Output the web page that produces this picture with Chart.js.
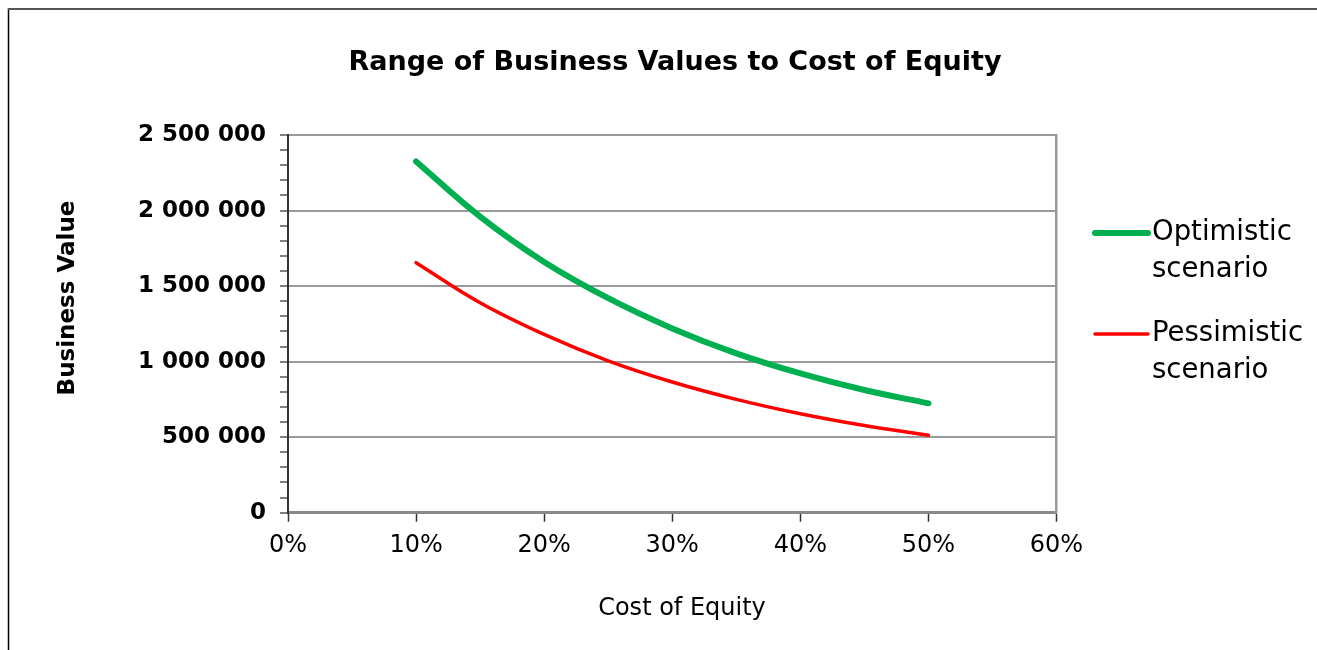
<!DOCTYPE html>
<html>
<head>
<meta charset="utf-8">
<script src="https://cdn.jsdelivr.net/npm/chart.js@4.4.1/dist/chart.umd.min.js"></script>
<style>
  html, body { margin: 0; padding: 0; background: #ffffff; }
  #wrap { position: relative; width: 1317px; height: 650px; }
  canvas { display: block; }
</style>
</head>
<body>
<div id="wrap"><canvas id="c" width="1317" height="650"></canvas></div>
<script>
// ---- data ----
const chartTitle = 'Range of Business Values to Cost of Equity';
const xAxisTitle = 'Cost of Equity';
const yAxisTitle = 'Business Value';
const costOfEquity = [0.10, 0.15, 0.20, 0.25, 0.30, 0.35, 0.40, 0.45, 0.50];
const optimistic   = [2325000, 1960000, 1660000, 1420000, 1220000, 1055000, 922000, 812000, 724000];
const pessimistic  = [1655000, 1390000, 1180000, 1005000, 865000, 750000, 655000, 577000, 513000];
const seriesNames  = ['Optimistic scenario', 'Pessimistic scenario'];
const legendLines  = [['Optimistic', 'scenario'], ['Pessimistic', 'scenario']];
const seriesColors = ['#00B050', '#FF0000'];
const xTickValues  = [0, 0.1, 0.2, 0.3, 0.4, 0.5, 0.6];
const yMajorStep   = 500000;

const FONT = '"DejaVu Sans", "Liberation Sans", Arial, sans-serif';

function fmtSpace(v) {
  return String(Math.round(v)).replace(/\B(?=(\d{3})+(?!\d))/g, ' ');
}

const decor = {
  id: 'decor',
  afterDraw(chart) {
    const ctx = chart.ctx;
    ctx.save();
    // outer frame (left and top edges)
    ctx.strokeStyle = '#000000';
    ctx.lineWidth = 1.5;
    ctx.beginPath();
    ctx.moveTo(8.5, 8);
    ctx.lineTo(8.5, 650);
    ctx.stroke();
    ctx.strokeStyle = '#555555';
    ctx.lineWidth = 2;
    ctx.beginPath();
    ctx.moveTo(8, 9);
    ctx.lineTo(1317, 9);
    ctx.stroke();

    // y axis title
    ctx.fillStyle = '#000000';
    ctx.font = 'bold 23px ' + FONT;
    ctx.textAlign = 'center';
    ctx.textBaseline = 'middle';
    ctx.save();
    ctx.translate(68, 298);
    ctx.rotate(-Math.PI / 2);
    ctx.fillText(yAxisTitle, 0, 0);
    ctx.restore();

    // x axis title
    ctx.font = '24px ' + FONT;
    ctx.fillText(xAxisTitle, 682, 609);

    // legend
    const entryY = [233, 334];
    chart.data.datasets.forEach((ds, i) => {
      const y = entryY[i];
      ctx.strokeStyle = ds.borderColor;
      ctx.lineWidth = ds.borderWidth;
      ctx.lineCap = 'round';
      ctx.beginPath();
      ctx.moveTo(1095, y);
      ctx.lineTo(1148, y);
      ctx.stroke();
      ctx.fillStyle = '#000000';
      ctx.font = '27.5px ' + FONT;
      ctx.textAlign = 'left';
      ctx.textBaseline = 'middle';
      legendLines[i].forEach((t, k) => ctx.fillText(t, 1152, y + k * 37));
    });
    ctx.restore();
  }
};

const datasets = [optimistic, pessimistic].map((vals, i) => ({
  label: seriesNames[i],
  data: costOfEquity.map((x, k) => ({ x: x, y: vals[k] })),
  borderColor: seriesColors[i],
  backgroundColor: seriesColors[i],
  borderWidth: i === 0 ? 6 : 3.5,
  borderCapStyle: 'round',
  pointRadius: 0,
  tension: 0.4,
  fill: false,
  yAxisID: 'y'
}));

new Chart(document.getElementById('c'), {
  type: 'line',
  data: { datasets: datasets },
  plugins: [decor],
  options: {
    responsive: false,
    animation: false,
    events: [],
    layout: { padding: { left: 33, right: 0, top: 0, bottom: 0 } },
    plugins: {
      legend: { display: false },
      tooltip: { enabled: false },
      title: {
        display: true,
        text: chartTitle,
        color: '#000000',
        font: { family: FONT, size: 27, weight: 'bold', lineHeight: 1.2 },
        padding: { top: 47, bottom: 55.6 }
      }
    },
    scales: {
      x: {
        type: 'linear',
        min: 0,
        max: 0.6,
        afterBuildTicks(scale) { scale.ticks = xTickValues.map(v => ({ value: v })); },
        afterFit(scale) { scale.height = 137.3; },
        ticks: {
          color: '#000000',
          font: { family: FONT, size: 24 },
          padding: 10,
          maxRotation: 0,
          autoSkip: false,
          callback: v => Math.round(v * 100) + '%'
        },
        grid: {
          drawOnChartArea: false,
          drawTicks: true,
          tickLength: 9,
          tickColor: '#333333',
          tickWidth: 1.5
        },
        border: { display: true, color: '#8a8a8a', width: 3 }
      },
      y: {
        type: 'linear',
        position: 'left',
        min: 0,
        max: 2500000,
        afterFit(scale) { scale.width = 255; },
        ticks: {
          stepSize: 100000,
          autoSkip: false,
          color: '#000000',
          font: { family: FONT, size: 23, weight: 'bold' },
          padding: 14,
          callback: v => (v % yMajorStep === 0 ? fmtSpace(v) : '')
        },
        grid: {
          drawOnChartArea: true,
          drawTicks: true,
          tickLength: 8,
          color: ctx => (ctx.tick && ctx.tick.value % yMajorStep === 0 && ctx.tick.value !== 0) ? '#9a9a9a' : 'rgba(0,0,0,0)',
          lineWidth: 2,
          tickColor: '#555555',
          tickWidth: 1.5
        },
        border: { display: true, color: '#333333', width: 2 }
      },
      y2: {
        type: 'linear',
        position: 'right',
        min: 0,
        max: 2500000,
        afterFit(scale) { scale.width = 260.5; },
        ticks: { display: false },
        grid: { drawOnChartArea: false, drawTicks: false },
        border: { display: true, color: '#9a9a9a', width: 2.5 }
      }
    }
  }
});
</script>
</body>
</html>
